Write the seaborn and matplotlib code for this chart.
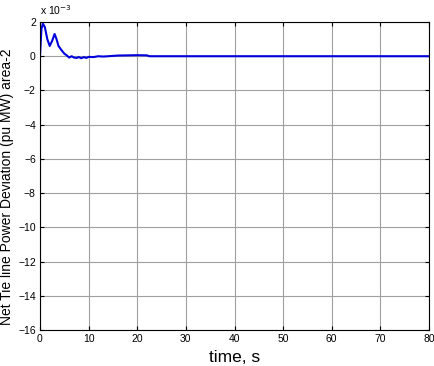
import matplotlib
matplotlib.use("Agg")
import matplotlib.pyplot as plt
import seaborn as sns
import pandas as pd

sns.set_style("white")
plt.rcParams['font.family'] = ['Liberation Sans', 'DejaVu Sans']
plt.rcParams['text.color'] = 'black'
plt.rcParams['axes.labelcolor'] = 'black'
plt.rcParams['xtick.color'] = 'black'
plt.rcParams['ytick.color'] = 'black'

time_s = [0, 0.3, 0.6, 1.0, 1.5, 2.0, 2.5, 3.0, 3.4, 3.8, 4.3, 5.0, 5.5, 6.0, 6.5, 7.0, 7.5, 8.0, 8.5, 9.0, 9.5, 10.0, 11.0, 12.0, 13.0, 14.0, 15.0, 16.0, 18.0, 20.0, 22.0, 22.5, 30.0, 40.0, 50.0, 60.0, 70.0, 80.0]
deviation_e3 = [0, 1.6, 1.9, 1.7, 1.0, 0.6, 0.9, 1.3, 1.0, 0.6, 0.4, 0.15, 0.05, -0.08, 0.0, -0.08, -0.1, -0.05, -0.12, -0.05, -0.1, -0.04, -0.05, 0.0, -0.02, 0.0, 0.02, 0.04, 0.05, 0.06, 0.05, 0.0, 0.0, 0.0, 0.0, 0.0, 0.0, 0.0]

df = pd.DataFrame({"t": time_s, "d": deviation_e3})

fig = plt.figure(figsize=(4.35, 3.66), dpi=100)
ax = fig.add_axes([40/435, 36/366, 389/435, 308/366])
sns.lineplot(data=df, x="t", y="d", ax=ax, color="#0000dd", linewidth=1.5)
ax.set_xlim(0, 80)
ax.set_ylim(-16, 2)
ax.set_xticks(range(0, 81, 10))
ax.set_yticks(range(-16, 3, 2))
ax.grid(True, color="#a0a0a0", linewidth=0.8)
for s in ax.spines.values():
    s.set_color("black")
    s.set_linewidth(0.8)
ax.tick_params(direction="in", labelsize=7.5, length=3, top=True, right=True, bottom=True, left=True, pad=3,
               colors="black")
ax.set_xlabel("time, s", fontsize=12.5, labelpad=4, color="black")
ax.set_ylabel("Net Tie line Power Deviation (pu MW) area-2", fontsize=10, color="black")
ax.yaxis.set_label_coords(-0.066, 0.465)
ax.text(0.0, 1.015, r"x 10$^{-3}$", transform=ax.transAxes, fontsize=7.5, ha="left", va="bottom", color="black")
fig.savefig("out.png", dpi=100)
